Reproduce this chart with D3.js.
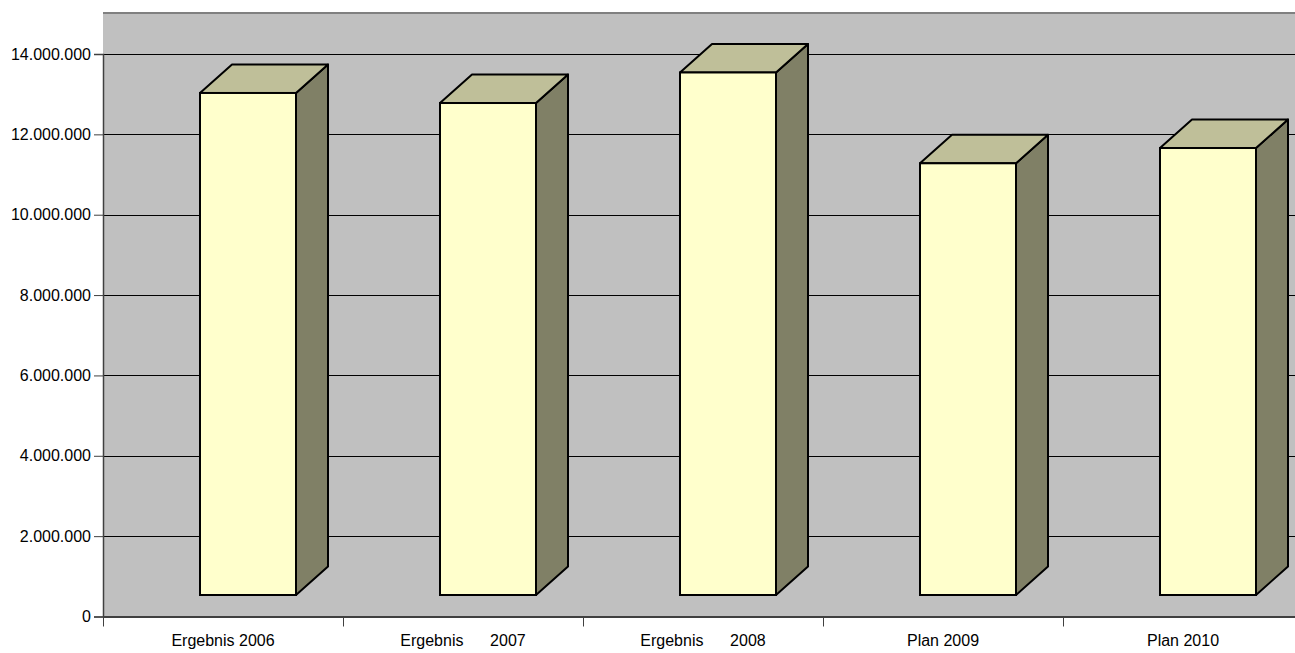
<!DOCTYPE html>
<html>
<head>
<meta charset="utf-8">
<script src="https://cdn.jsdelivr.net/npm/d3@7"></script>
<style>
  html, body { margin: 0; padding: 0; background: #ffffff; overflow: hidden; }
  svg { display: block; font-family: "Liberation Sans", Arial, sans-serif; }
  text { white-space: pre; }
</style>
</head>
<body>
<svg id="chart" width="1295" height="653"></svg>
<script>
// Categories and values (EUR)
const categories = ["Ergebnis 2006", "Ergebnis      2007", "Ergebnis      2008", "Plan 2009", "Plan 2010"];
const values = [13030000, 12780000, 13540000, 11280000, 11660000];
const yTickValues = [0, 2000000, 4000000, 6000000, 8000000, 10000000, 12000000, 14000000];

const de = d3.formatLocale({ decimal: ",", thousands: ".", grouping: [3], currency: ["", " €"] });
const fmt = de.format(",.0f");

const svg = d3.select("#chart");
const plot = { left: 103, top: 13, right: 1303, bottom: 616.5 };

// 3D column geometry
const depthX = 32, depthY = 28.5, floorLift = 21.5;

const x = d3.scaleBand().domain(categories).range([plot.left, plot.right]).padding(0);
const y = d3.scaleLinear().domain([0, 14000000]).range([plot.bottom, 54]);

// back wall
svg.append("rect")
  .attr("x", plot.left).attr("y", plot.top)
  .attr("width", plot.right - plot.left).attr("height", plot.bottom - plot.top)
  .attr("fill", "#c0c0c0");
svg.append("line")
  .attr("x1", plot.left).attr("x2", plot.right)
  .attr("y1", plot.top).attr("y2", plot.top)
  .attr("stroke", "#808080").attr("stroke-width", 2);

// gridlines
svg.append("g")
  .selectAll("line")
  .data(yTickValues.filter(v => v > 0))
  .join("line")
  .attr("x1", plot.left).attr("x2", plot.right)
  .attr("y1", d => Math.round(y(d)) + 0.5).attr("y2", d => Math.round(y(d)) + 0.5)
  .attr("stroke", "#000").attr("stroke-width", 1);

// value axis
const yAxis = d3.axisLeft(y).tickValues(yTickValues).tickFormat(fmt).tickSize(9).tickPadding(3);
const gy = svg.append("g").attr("transform", `translate(${plot.left},0)`).call(yAxis);
gy.select(".domain").attr("stroke", "#404040").attr("stroke-width", 1.5);
gy.selectAll(".tick line").attr("stroke", "#404040");
gy.selectAll(".tick text").attr("font-size", 16).attr("fill", "#000")
  .attr("font-family", "Liberation Sans, Arial, sans-serif");

// category axis
const xAxis = d3.axisBottom(x).tickSize(0).tickPadding(0);
const gx = svg.append("g").attr("transform", `translate(0,${plot.bottom})`).call(xAxis);
gx.select(".domain").attr("stroke", "#404040").attr("stroke-width", 2);
gx.selectAll(".tick text").attr("font-size", 16).attr("fill", "#000")
  .attr("font-family", "Liberation Sans, Arial, sans-serif")
  .attr("dy", "0").attr("y", 29);
// tick marks between categories
gx.append("g").selectAll("line")
  .data(categories)
  .join("line")
  .attr("x1", d => x(d) + 0.5).attr("x2", d => x(d) + 0.5)
  .attr("y1", 0).attr("y2", 10)
  .attr("stroke", "#404040").attr("stroke-width", 1);

// columns
const faceW = x.bandwidth() * 0.4;
const base = y(0) - floorLift;
const bars = svg.append("g").selectAll("g")
  .data(categories.map((c, i) => ({ c, v: values[i] })))
  .join("g");

bars.each(function (d) {
  const g = d3.select(this);
  const x0 = x(d.c) + x.bandwidth() / 2 - 23;
  const x1 = x0 + faceW;
  const top = y(d.v);
  // side face
  g.append("path")
    .attr("d", `M${x1},${top} L${x1 + depthX},${top - depthY} L${x1 + depthX},${base - depthY} L${x1},${base} Z`)
    .attr("fill", "#808066").attr("stroke", "#000").attr("stroke-width", 2).attr("stroke-linejoin", "round");
  // top face
  g.append("path")
    .attr("d", `M${x0},${top} L${x0 + depthX},${top - depthY} L${x1 + depthX},${top - depthY} L${x1},${top} Z`)
    .attr("fill", "#bfbf99").attr("stroke", "#000").attr("stroke-width", 2).attr("stroke-linejoin", "round");
  // front face
  g.append("rect")
    .attr("x", x0).attr("y", top).attr("width", faceW).attr("height", base - top)
    .attr("fill", "#ffffcc").attr("stroke", "#000").attr("stroke-width", 2);
});
</script>
</body>
</html>
